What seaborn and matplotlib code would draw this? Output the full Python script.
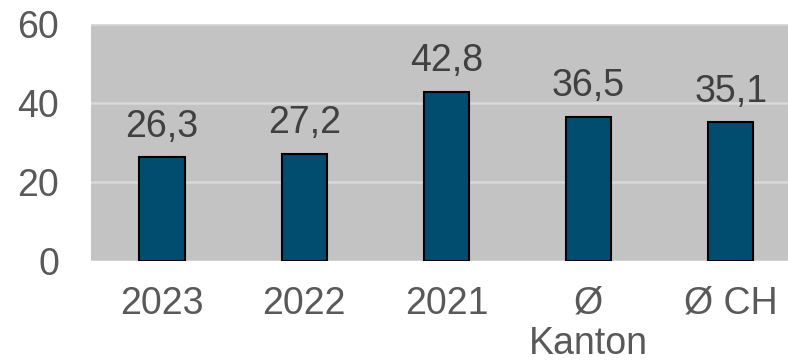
import matplotlib
matplotlib.use("Agg")
import matplotlib.pyplot as plt
import seaborn as sns
import pandas as pd

categories = ["2023", "2022", "2021", "Ø\nKanton", "Ø CH"]
values = [26.3, 27.2, 42.8, 36.5, 35.1]
y_ticks = [0, 20, 40, 60]

df = pd.DataFrame({"kategorie": categories, "wert": values})

sns.set_theme(style="whitegrid")
plt.rcParams["font.family"] = ["Liberation Sans", "DejaVu Sans"]

fig = plt.figure(figsize=(7.88, 3.63), dpi=100)
ax = fig.add_axes([0.1155, 0.281, 0.902, 0.653])
ax.set_facecolor("#C3C3C3")

sns.barplot(data=df, x="kategorie", y="wert", color="#004D70",
            width=0.32, edgecolor="black", linewidth=1.5,
            saturation=1, ax=ax, zorder=3)

ax.set_ylim(0, 60)
ax.set_xlim(-0.5, 4.5)
ax.set_yticks(y_ticks)
ax.grid(axis="y", color="#D9D9D9", linewidth=1.8, zorder=0)
ax.grid(axis="x", visible=False)
for s in ax.spines.values():
    s.set_visible(False)

ax.set_xlabel("")
ax.set_ylabel("")
ax.tick_params(axis="both", length=0, labelsize=27, labelcolor="#595959")
ax.tick_params(axis="y", pad=23)
ax.tick_params(axis="x", pad=18)
for lbl in ax.get_xticklabels():
    lbl.set_linespacing(1.15)

labels = [f"{v:.1f}".replace(".", ",") for v in values]
ax.bar_label(ax.containers[0], labels=labels, padding=9,
             fontsize=27, color="#404040")

fig.savefig("out.png", dpi=100)
